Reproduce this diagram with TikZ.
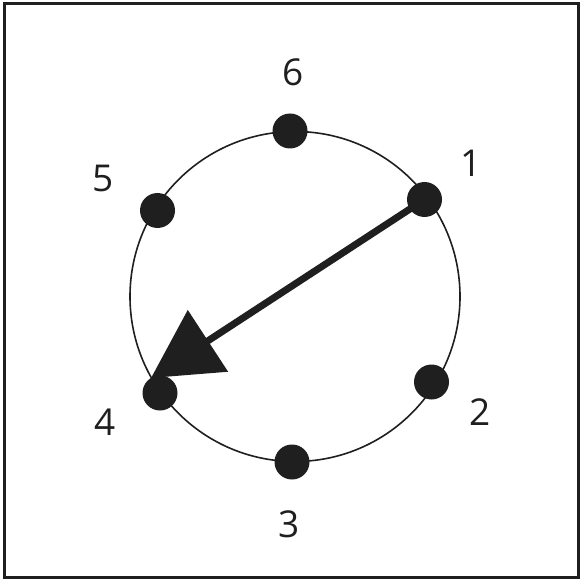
\documentclass[tikz,border=0pt]{standalone}
\usepackage{fontspec}
\setmainfont{Open Sans}
\usetikzlibrary{arrows.meta}
\begin{document}
\begin{tikzpicture}[x=1pt,y=-1pt,
  dot/.style={circle,fill=black!88,inner sep=0pt,minimum size=35pt},
  lbl/.style={font=\fontsize{37}{40}\selectfont,text=black!88,inner sep=0pt},
  ring/.style={draw=black!88,line width=1.6pt},
  pointer/.style={draw=black!88,line width=7pt,-{Triangle[length=68pt,width=72pt]}}
]
\useasboundingbox (0,0) rectangle (581,580);
\draw[draw=black!88,line width=3pt] (4.5,3.5) rectangle (578,577.5);
\node[ring,circle,minimum size=330pt,inner sep=0pt] (ring) at (295,296.5) {};
\node[dot] (d6) at (290,131) {};
\node[dot] (d1) at (424.5,199.5) {};
\node[dot] (d5) at (157.5,210.5) {};
\node[dot] (d2) at (431.5,382) {};
\node[dot] (d3) at (292,462) {};
\node[dot] (d4) at (160,393) {};
\node[lbl] (l6) at (293,72) {6};
\node[lbl] (l1) at (471,163) {1};
\node[lbl] (l5) at (103,178) {5};
\node[lbl] (l2) at (480,412) {2};
\node[lbl] (l4) at (105,422) {4};
\node[lbl] (l3) at (289,524) {3};
\coordinate (tip) at (151,378);
\draw[pointer] (d1.center) -- (tip);
\end{tikzpicture}
\end{document}
